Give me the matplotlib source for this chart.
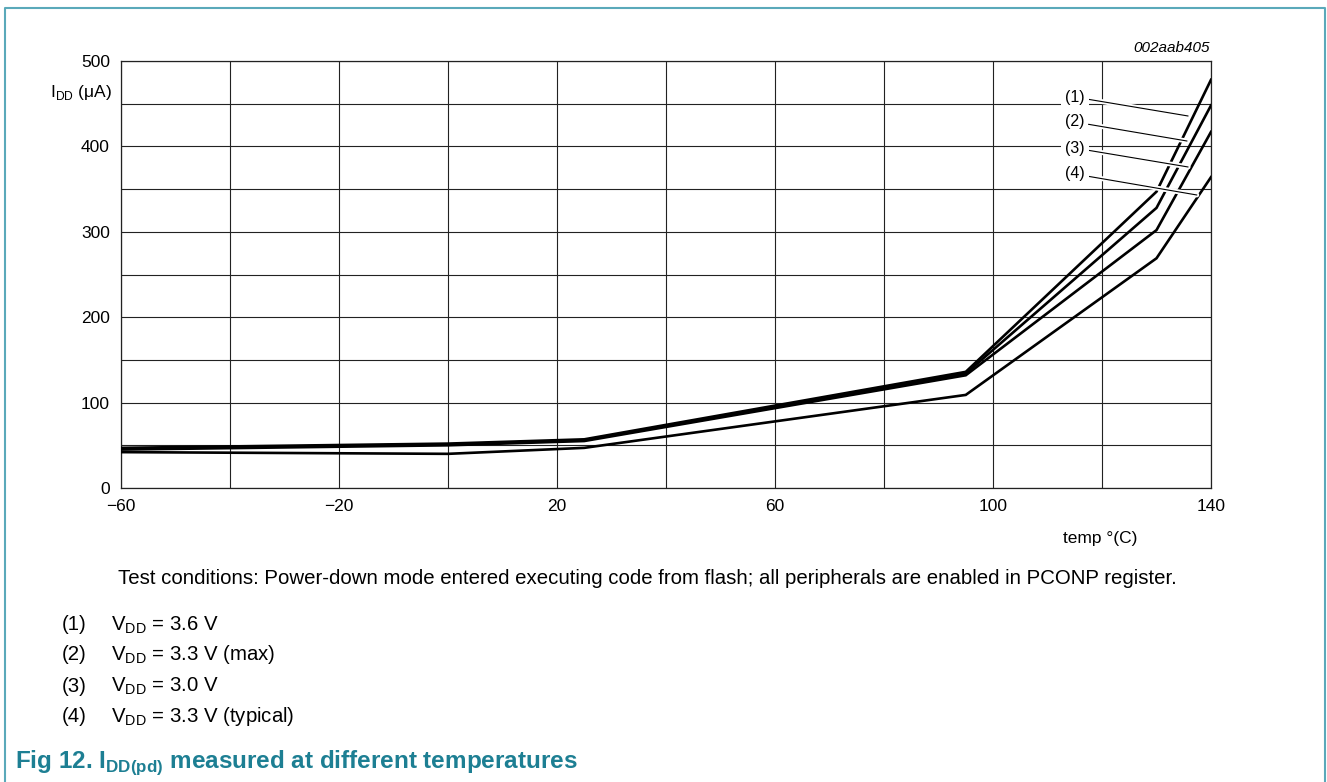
import matplotlib
matplotlib.use("Agg")
import matplotlib.pyplot as plt
import matplotlib.patheffects as pe
from matplotlib.lines import Line2D

plt.rcParams['font.family'] = ['Liberation Sans', 'DejaVu Sans']
plt.rcParams['mathtext.fontset'] = 'custom'
plt.rcParams['mathtext.rm'] = 'Liberation Sans'
plt.rcParams['mathtext.bf'] = 'Liberation Sans:bold'
plt.rcParams['axes.unicode_minus'] = True

# data
temp = [-60, 0, 25, 95, 130, 140]
idd_1 = [47, 52, 57, 136, 347, 478]   # VDD = 3.6 V
idd_2 = [46, 51, 56, 134, 328, 448]   # VDD = 3.3 V (max)
idd_3 = [45, 50, 55, 132, 302, 417]   # VDD = 3.0 V
idd_4 = [42, 40, 47, 109, 269, 364]   # VDD = 3.3 V (typical)

series_labels = ["(1)", "(2)", "(3)", "(4)"]
legend_texts = ["3.6 V", "3.3 V (max)", "3.0 V", "3.3 V (typical)"]
x_ticks = [-60, -20, 20, 60, 100, 140]
y_ticks = [0, 100, 200, 300, 400, 500]

W, H = 1327, 782
teal = "#5aa9ba"
title_col = "#1d7f93"

fig = plt.figure(figsize=(W / 100, H / 100), dpi=100)
ax = fig.add_axes([121 / W, 1 - 488 / H, 1090 / W, 427 / H])

for ys in [idd_1, idd_2, idd_3, idd_4]:
    ax.plot(temp, ys, color="black", lw=1.9, zorder=3, solid_joinstyle="miter")

ax.set_xlim(-60, 140)
ax.set_ylim(0, 500)
ax.set_xticks(x_ticks)
ax.set_xticks([-40, 0, 40, 80, 120], minor=True)
ax.set_yticks(y_ticks)
ax.set_yticks([50, 150, 250, 350, 450], minor=True)
ax.grid(which="both", color="#222222", lw=0.8, zorder=1)
ax.tick_params(which="both", length=0, labelsize=12.5, pad=8)
for s in ax.spines.values():
    s.set_linewidth(0.9)
    s.set_color("#222222")

# curve labels with leader lines
label_pos = [(115.0, 457.8), (115.0, 428.6), (115.0, 398.1), (115.0, 367.7)]
leader_end = [(135.8, 435.6), (135.6, 406.3), (135.8, 375.9), (137.4, 343.1)]
for lab, tp, ep in zip(series_labels, label_pos, leader_end):
    an = ax.annotate(lab, xy=ep, xytext=tp, ha="center", va="center", fontsize=11.5,
                     bbox=dict(boxstyle="square,pad=0.25", fc="white", ec="none"),
                     arrowprops=dict(arrowstyle="-", lw=0.8, color="black",
                                     shrinkA=0, shrinkB=0), zorder=5)
    an.arrow_patch.set_path_effects([pe.Stroke(linewidth=3.5, foreground="white"), pe.Normal()])

fig.text(112 / W, 1 - 93 / H, r"I$_{\rm DD}$ (μA)", ha="right", va="center", fontsize=12.5)
fig.text(1100 / W, 1 - 538 / H, "temp °(C)", ha="center", va="center", fontsize=12.5)
fig.text(1210 / W, 1 - 48 / H, "002aab405", ha="right", va="center", fontsize=11,
         style="italic")

# notes under the graph
fig.text(118 / W, 1 - 579 / H,
         "Test conditions: Power-down mode entered executing code from flash; "
         "all peripherals are enabled in PCONP register.",
         ha="left", va="center", fontsize=14.7)
row_y = [625, 655, 686, 716]
for lab, txt, yy in zip(series_labels, legend_texts, row_y):
    fig.text(62 / W, 1 - yy / H, lab, ha="left", va="center", fontsize=14.7)
    fig.text(111 / W, 1 - yy / H, r"V$_{\rm DD}$ = " + txt, ha="left", va="center", fontsize=14.7)

fig.text(15 / W, 1 - 763 / H,
         r"Fig 12. I$_{\mathbf{DD(pd)}}$ measured at different temperatures",
         ha="left", va="center", fontsize=17.5, fontweight="bold", color=title_col)

# page frame
fig.add_artist(Line2D([5 / W, 5 / W, 1325 / W, 1325 / W], [0, 1 - 8 / H, 1 - 8 / H, 0],
                      transform=fig.transFigure, color=teal, lw=1.5))

fig.savefig("out.png", dpi=100)
